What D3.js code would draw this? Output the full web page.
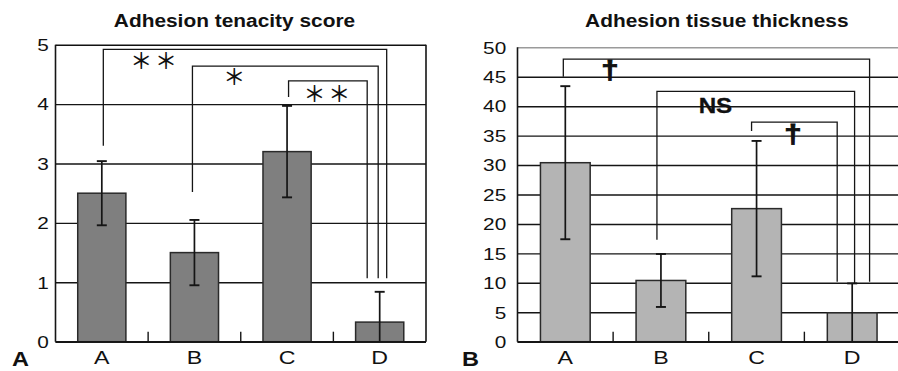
<!DOCTYPE html>
<html>
<head>
<meta charset="utf-8">
<script src="https://cdn.jsdelivr.net/npm/d3@7/dist/d3.min.js"></script>
<style>
  html, body { margin: 0; padding: 0; background: #fff; }
  svg { display: block; }
  text { font-family: "Liberation Sans", Arial, Helvetica, sans-serif; fill: #111; }
</style>
</head>
<body>
<script>
// ---------------- data ----------------
const categories = ["A", "B", "C", "D"];
const tenacityMean = [2.5, 1.5, 3.2, 0.33];
const tenacitySD = [0.54, 0.55, 0.77, 0.51];
const thicknessMean = [30.4, 10.4, 22.6, 4.9];
const thicknessSD = [13.0, 4.5, 11.5, 5.0];
const tenacityTicks = [0, 1, 2, 3, 4, 5];
const thicknessTicks = [0, 5, 10, 15, 20, 25, 30, 35, 40, 45, 50];
const titles = ["Adhesion tenacity score", "Adhesion tissue thickness"];
const panelLabels = ["A", "B"];

// significance comparisons: from -> to, bracket values (start, top, end), label, label anchor (band units, value)
const tenacityComparisons = [
  { from: "A", to: "D", start: 3.3, top: 4.92, end: 1.07, label: ["＊", "＊"], lx: 1.06, ly: 4.77 },
  { from: "B", to: "D", start: 2.52, top: 4.64, end: 1.07, label: ["＊"], lx: 1.93, ly: 4.49 },
  { from: "C", to: "D", start: 4.12, top: 4.39, end: 1.07, label: ["＊", "＊"], lx: 2.93, ly: 4.21 }
];
const thicknessComparisons = [
  { from: "A", to: "D", start: 45, top: 48, end: 10.2, label: ["†"], lx: 0.966, ly: 45.6 },
  { from: "B", to: "D", start: 17.3, top: 42.5, end: 9.9, label: ["NS"], lx: 2.07, ly: 40.2 },
  { from: "C", to: "D", start: 35.8, top: 37.3, end: 10.2, label: ["†"], lx: 2.88, ly: 34.8 }
];

// ---------------- layout / style ----------------
const W = 898, H = 371;
const svg = d3.select("body").append("svg").attr("width", W).attr("height", H);

const panels = [
  {
    mean: tenacityMean, sd: tenacitySD, ticks: tenacityTicks, domain: [0, 5],
    comps: tenacityComparisons, title: titles[0], plabel: panelLabels[0],
    left: 55.5, right: 426, top: 44.7, bottom: 341.7, fill: "#7f7f7f",
    titleX: 234.5, labelGap: 6.7, plabelX: 12, topColor: "#111", rightBorder: true,
    rightOffsets: [7, -1.5, -12.5], leftOffsets: [1.5, -2, 1.5],
    markStyle: "ast"
  },
  {
    mean: thicknessMean, sd: thicknessSD, ticks: thicknessTicks, domain: [0, 50],
    comps: thicknessComparisons, title: titles[1], plabel: panelLabels[1],
    left: 517.5, right: 900, top: 47.3, bottom: 341.7, fill: "#b4b4b4",
    titleX: 716.8, labelGap: 11.3, plabelX: 462, topColor: "#9a9a9a", rightBorder: false,
    rightOffsets: [17.4, 2.4, -15], leftOffsets: [-2, -4, -5],
    markStyle: "bold"
  }
];

const LINE = "#151515";

panels.forEach(p => {
  const g = svg.append("g");
  const x = d3.scaleBand().domain(categories).range([p.left, p.right]).paddingInner(0.48).paddingOuter(0.24);
  const xb = d3.scaleLinear().domain([0, categories.length]).range([p.left, p.right]);
  const y = d3.scaleLinear().domain(p.domain).range([p.bottom, p.top]);
  const cx = c => x(c) + x.bandwidth() / 2;

  // gridlines + y labels via axis
  const yAxis = d3.axisLeft(y).tickValues(p.ticks).tickFormat(d3.format("d"))
    .tickSize(-(p.right - p.left)).tickPadding(0);
  const ya = g.append("g").attr("transform", `translate(${p.left},0)`).call(yAxis);
  ya.select(".domain").remove();
  ya.selectAll(".tick line")
    .attr("stroke", (d) => d === p.domain[1] ? p.topColor : LINE)
    .attr("stroke-width", 1.4);
  ya.selectAll(".tick text")
    .attr("x", -p.labelGap / 1.3)
    .attr("dy", "0.36em")
    .attr("transform", "scale(1.3,1)")
    .style("font-size", "16px")
    .style("font-family", "'Liberation Sans', Arial, sans-serif")
    .attr("fill", "#111");

  // bars
  g.selectAll("rect.bar").data(categories).join("rect")
    .attr("class", "bar")
    .attr("x", c => x(c))
    .attr("width", x.bandwidth())
    .attr("y", (c, i) => y(p.mean[i]))
    .attr("height", (c, i) => y(0) - y(p.mean[i]))
    .attr("fill", p.fill)
    .attr("stroke", "#2a2a2a")
    .attr("stroke-width", 1.5);

  // error bars
  const capW = 10;
  categories.forEach((c, i) => {
    const hi = p.mean[i] + p.sd[i];
    const loRaw = p.mean[i] - p.sd[i];
    const lo = Math.max(p.domain[0], loRaw);
    g.append("line").attr("x1", cx(c)).attr("x2", cx(c)).attr("y1", y(hi)).attr("y2", y(lo))
      .attr("stroke", LINE).attr("stroke-width", 1.7);
    g.append("line").attr("x1", cx(c) - capW / 2).attr("x2", cx(c) + capW / 2).attr("y1", y(hi)).attr("y2", y(hi))
      .attr("stroke", LINE).attr("stroke-width", 1.9);
    if (loRaw > p.domain[0]) {
      g.append("line").attr("x1", cx(c) - capW / 2).attr("x2", cx(c) + capW / 2).attr("y1", y(lo)).attr("y2", y(lo))
        .attr("stroke", LINE).attr("stroke-width", 1.9);
    }
  });

  // axes frame
  g.append("line").attr("x1", p.left).attr("x2", p.left).attr("y1", y(p.domain[1])).attr("y2", y(0))
    .attr("stroke", LINE).attr("stroke-width", 1.6);
  g.append("line").attr("x1", p.left).attr("x2", p.right).attr("y1", y(0)).attr("y2", y(0))
    .attr("stroke", LINE).attr("stroke-width", 1.6);
  if (p.rightBorder) {
    g.append("line").attr("x1", p.right).attr("x2", p.right).attr("y1", y(p.domain[1])).attr("y2", y(0))
      .attr("stroke", LINE).attr("stroke-width", 1.6);
  }
  // category boundary ticks (inside)
  d3.range(1, categories.length).forEach(k => {
    g.append("line").attr("x1", xb(k)).attr("x2", xb(k)).attr("y1", y(0)).attr("y2", y(0) - 10)
      .attr("stroke", LINE).attr("stroke-width", 1.4);
  });

  // x labels
  const xAxis = d3.axisBottom(x).tickSize(0).tickPadding(0);
  const xa = g.append("g").attr("transform", `translate(0,${p.bottom})`).call(xAxis);
  xa.select(".domain").remove();
  xa.selectAll(".tick text")
    .attr("y", 0).attr("dy", 0)
    .attr("transform", "translate(0,22.3) scale(1.22,1)")
    .style("font-size", "19px")
    .style("font-family", "'Liberation Sans', Arial, sans-serif")
    .attr("fill", "#111");

  // significance brackets
  p.comps.forEach((cm, k) => {
    const xL = cx(cm.from) + p.leftOffsets[k];
    const xR = cx(cm.to) + p.rightOffsets[k];
    const path = d3.path();
    path.moveTo(xL, y(cm.start));
    path.lineTo(xL, y(cm.top));
    path.lineTo(xR, y(cm.top));
    path.lineTo(xR, y(cm.end));
    g.append("path").attr("d", path.toString()).attr("fill", "none")
      .attr("stroke", LINE).attr("stroke-width", 1.3);

    const lxPix = xb(cm.lx), lyPix = y(cm.ly);
    if (p.markStyle === "ast") {
      const n = cm.label.length;
      cm.label.forEach((s, j) => {
        const off = (j - (n - 1) / 2) * 24.7;
        g.append("text").attr("x", lxPix + off).attr("y", lyPix).attr("dy", "0.42em")
          .attr("text-anchor", "middle")
          .attr("fill", "#111")
          .style("fill", "#111")
          .style("font-family", "'Noto Sans CJK JP', 'Noto Sans CJK SC', sans-serif")
          .style("font-size", "22px").style("font-weight", "500")
          .text(s);
      });
    } else {
      const s = cm.label[0];
      const isNS = s === "NS";
      g.append("text")
        .attr("transform", `translate(${lxPix},${lyPix + (isNS ? 7.7 : 6)}) scale(${isNS ? 1.1 : 1.25},1)`)
        .attr("text-anchor", "middle")
        .attr("stroke", "#111").attr("stroke-width", isNS ? 0.3 : 0.9)
        .style("font-weight", "bold")
        .style("font-size", isNS ? "22px" : "25px")
        .text(s);
    }
  });

  // title
  svg.append("text")
    .attr("transform", `translate(${p.titleX},26.7) scale(1.13,1)`)
    .attr("text-anchor", "middle")
    .style("font-weight", "bold").style("font-size", "18.5px")
    .text(p.title);

  // panel label
  svg.append("text")
    .attr("transform", `translate(${p.plabelX},366) scale(1.12,1)`)
    .style("font-weight", "bold").style("font-size", "21px")
    .text(p.plabel);
});
</script>
</body>
</html>
